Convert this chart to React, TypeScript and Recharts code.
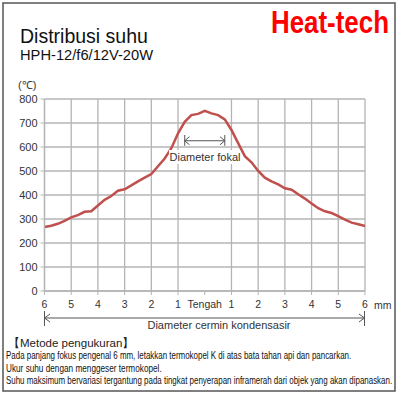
import { useLayoutEffect, useRef, useState } from "react";
import {
  LineChart,
  Line,
  XAxis,
  YAxis,
  CartesianGrid,
  ReferenceLine,
} from "recharts";

// position across the mirror (mm), negative = left of centre
const POSITIONS = [
  -6, -5.75, -5.5, -5.25, -5, -4.75, -4.5, -4.25, -4, -3.75, -3.5, -3.25, -3,
  -2.75, -2.5, -2.25, -2, -1.75, -1.5, -1.25, -1, -0.75, -0.5, -0.25, 0, 0.25,
  0.5, 0.75, 1, 1.25, 1.5, 1.75, 2, 2.25, 2.5, 2.75, 3, 3.25, 3.5, 3.75, 4,
  4.25, 4.5, 4.75, 5, 5.25, 5.5, 5.75, 6,
];

// measured temperature (°C)
const TEMPS = [
  267, 272, 280, 292, 307, 316, 330, 332, 356, 380, 396, 418, 424, 440, 457,
  472, 487, 520, 552, 595, 657, 705, 733, 738, 751, 740, 733, 715, 671, 616,
  562, 536, 500, 472, 457, 444, 428, 422, 403, 385, 365, 345, 332, 325, 312,
  297, 285, 278, 271,
];

const X_TICKS = [-6, -5, -4, -3, -2, -1, 0, 1, 2, 3, 4, 5, 6];
const Y_TICKS = [0, 100, 200, 300, 400, 500, 600, 700, 800];

const NOTES = [
  "Pada panjang fokus pengenal 6 mm, letakkan termokopel K di atas bata tahan api dan pancarkan.",
  "Ukur suhu dengan menggeser termokopel.",
  "Suhu maksimum bervariasi tergantung pada tingkat penyerapan inframerah dari objek yang akan dipanaskan.",
];

const FONT = '"Liberation Sans", Arial, sans-serif';
const GRID = "#b4b4b4";
const INK = "#555";

const data = POSITIONS.map((x, i) => ({ x, temp: TEMPS[i] }));

// squeezes a line of svg text horizontally so it spans `width` px
const FitText = ({ x, y, width, children, ...rest }: any) => {
  const ref = useRef<SVGTextElement>(null);
  const [sx, setSx] = useState(1);
  useLayoutEffect(() => {
    if (ref.current) {
      const w = ref.current.getComputedTextLength();
      if (w > 0) setSx(width / w);
    }
  }, [width]);
  return (
    <text ref={ref} transform={`translate(${x},${y}) scale(${sx},1)`} {...rest}>
      {children}
    </text>
  );
};

const App = () => {
  return (
    <div
      style={{
        position: "absolute",
        left: 0,
        top: 0,
        width: 400,
        height: 398,
        background: "#fff",
        fontFamily: FONT,
      }}
    >
      <LineChart
        width={400}
        height={398}
        data={data}
        margin={{ top: 99, right: 35, bottom: 77, left: 0 }}
        style={{ position: "absolute", left: 0, top: 0 }}
      >
        <CartesianGrid stroke={GRID} strokeWidth={1.3} />
        <XAxis
          dataKey="x"
          type="number"
          domain={[-6, 6]}
          ticks={X_TICKS}
          height={30}
          tickSize={4}
          tickMargin={6}
          axisLine={{ stroke: GRID, strokeWidth: 1.3 }}
          tickLine={{ stroke: GRID }}
          tick={{ fontSize: 10.5, fill: "#333", fontFamily: FONT }}
          tickFormatter={(v: number) => (v === 0 ? "Tengah" : String(Math.abs(v)))}
        />
        <YAxis
          type="number"
          domain={[0, 800]}
          ticks={Y_TICKS}
          width={44.5}
          tickSize={4}
          tickMargin={3}
          axisLine={{ stroke: GRID, strokeWidth: 1.3 }}
          tickLine={{ stroke: GRID }}
          tick={{ fontSize: 11, fill: "#333", fontFamily: FONT }}
        />
        {/* focal diameter marker */}
        <ReferenceLine segment={[{ x: -0.75, y: 626 }, { x: 0.75, y: 626 }]} stroke={INK} />
        <ReferenceLine segment={[{ x: -0.75, y: 650 }, { x: -0.75, y: 605 }]} stroke={INK} />
        <ReferenceLine segment={[{ x: 0.75, y: 650 }, { x: 0.75, y: 605 }]} stroke={INK} />
        <ReferenceLine segment={[{ x: -0.75, y: 626 }, { x: -0.57, y: 643 }]} stroke={INK} />
        <ReferenceLine segment={[{ x: -0.75, y: 626 }, { x: -0.57, y: 609 }]} stroke={INK} />
        <ReferenceLine segment={[{ x: 0.75, y: 626 }, { x: 0.57, y: 643 }]} stroke={INK} />
        <ReferenceLine segment={[{ x: 0.75, y: 626 }, { x: 0.57, y: 609 }]} stroke={INK} />
        <Line
          dataKey="temp"
          type="linear"
          stroke="#c0504d"
          strokeWidth={2.5}
          dot={false}
          isAnimationActive={false}
        />
      </LineChart>

      {/* frame, titles and notes */}
      <svg
        width={400}
        height={398}
        style={{ position: "absolute", left: 0, top: 0, pointerEvents: "none" }}
        fontFamily={FONT}
      >
        <rect x={3} y={3} width={392} height={388} fill="none" stroke={INK} strokeWidth={1.5} />
        <FitText x={271} y={33} width={118} fontSize={31.5} fontWeight="bold" fill="#ff0000">
          Heat-tech
        </FitText>
        <text x={20} y={43} fontSize={19.5} fill="#111">
          Distribusi suhu
        </text>
        <text x={20} y={60} fontSize={14.7} fill="#111">
          HPH-12/f6/12V-20W
        </text>
        <text x={18} y={89} fontSize={11} fill="#333">
          (℃)
        </text>
        <text x={374} y={309} fontSize={10.5} fill="#333">
          mm
        </text>

        {/* focal diameter label */}
        <rect x={169} y={150} width={68} height={14} fill="#fff" />
        <text x={205} y={161} fontSize={11} fill="#333" textAnchor="middle">
          Diameter fokal
        </text>

        {/* mirror diameter arrow */}
        <g stroke={INK} strokeWidth={1}>
          <line x1={44.5} y1={318} x2={364.5} y2={318} />
          <line x1={44.5} y1={311} x2={44.5} y2={326} />
          <line x1={364.5} y1={311} x2={364.5} y2={326} />
          <polyline points="50,314 44.5,318 50,322" fill="none" />
          <polyline points="359,314 364.5,318 359,322" fill="none" />
        </g>
        <text x={219} y={329} fontSize={11} fill="#333" textAnchor="middle">
          Diameter cermin kondensasir
        </text>

        <text x={8} y={347} fontSize={11.5} fill="#222">
          【Metode pengukuran】
        </text>
        <FitText x={6} y={359} width={346} fontSize={10} fill="#111">
          {NOTES[0]}
        </FitText>
        <FitText x={6} y={372} width={156} fontSize={10} fill="#111">
          {NOTES[1]}
        </FitText>
        <FitText x={6} y={384} width={387} fontSize={10} fill="#111">
          {NOTES[2]}
        </FitText>
      </svg>
    </div>
  );
};

export default App;
